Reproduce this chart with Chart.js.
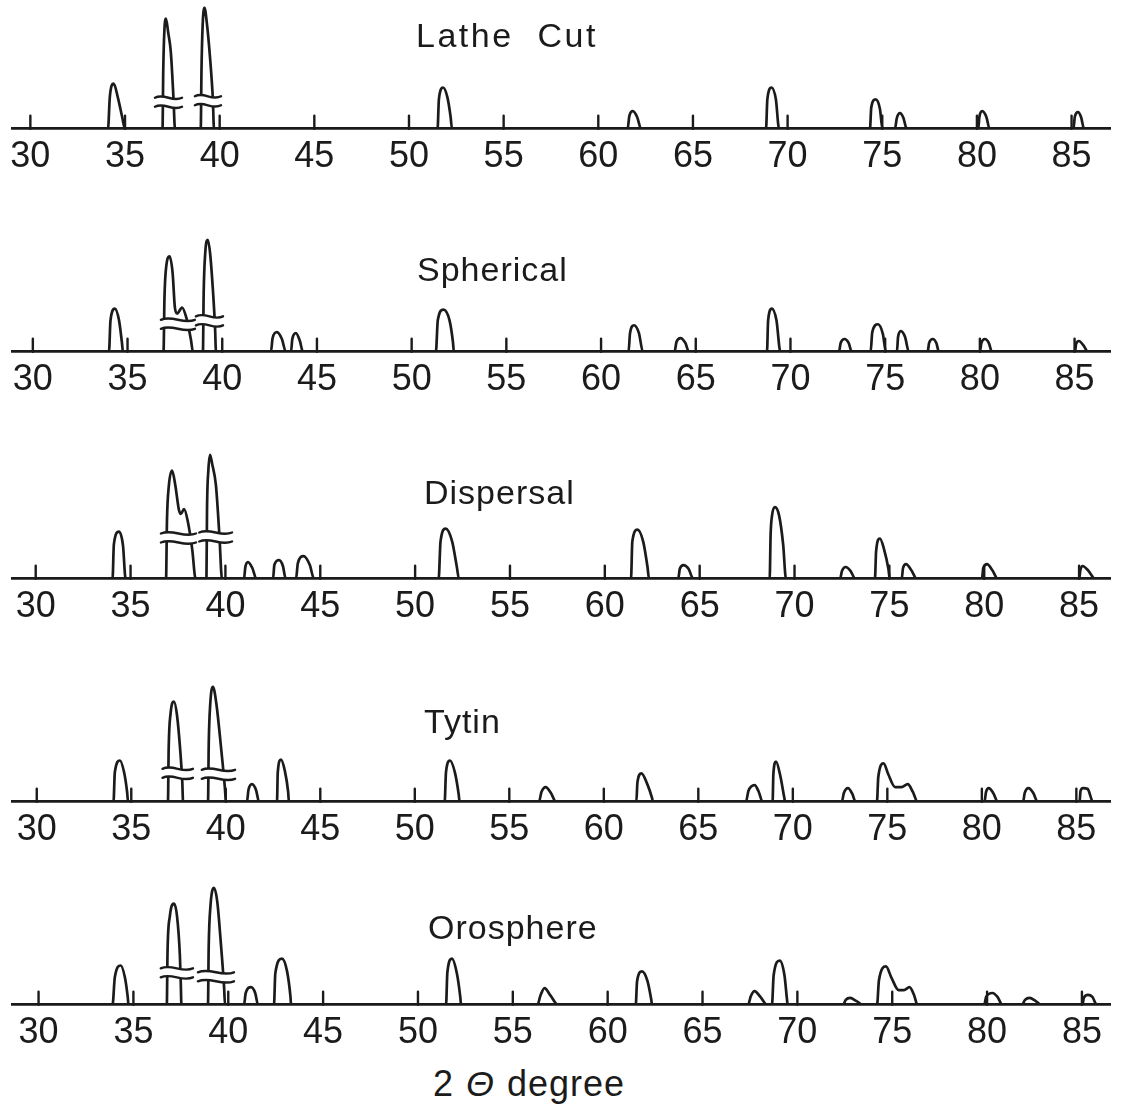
<!DOCTYPE html>
<html>
<head>
<meta charset="utf-8">
<title>XRD patterns</title>
<script src="https://cdn.jsdelivr.net/npm/chart.js"></script>
<style>
  body { margin: 0; background: #fff; }
  #wrap { position: relative; width: 1125px; height: 1104px; overflow: hidden; background: #fff; }
  #wrap canvas { position: absolute; left: 0; }
  .title {
    position: absolute;
    font-family: "Liberation Sans", Arial, sans-serif;
    font-size: 34px;
    line-height: 34px;
    letter-spacing: 1px;
    color: #1b1b1b;
    white-space: nowrap;
    z-index: 2;
  }
  .title.wide { letter-spacing: 2.5px; word-spacing: 12px; }
  .title.axis { font-size: 36px; line-height: 36px; letter-spacing: 1px; word-spacing: 1px; }
</style>
</head>
<body>
<div id="wrap"></div>
<script>
// 2-theta tick labels along every baseline
const tickValues = [30, 35, 40, 45, 50, 55, 60, 65, 70, 75, 80, 85];

const panelNames = ["Lathe Cut", "Spherical", "Dispersal", "Tytin", "Orosphere"];
const axisTitle = "2 <i>&Theta;</i> degree";

// traced profiles: [2theta, relative intensity]
const latheCut = [
  [29.03, 0],
  [34.10, 0], [34.20, 33], [34.40, 46], [34.62, 32], [34.85, 12], [35.00, 0],
  [36.98, 0], [37.02, 60], [37.08, 100], [37.16, 112], [37.28, 98], [37.42, 78], [37.56, 31], [37.64, 0],
  [39.00, 0], [39.04, 60], [39.10, 105], [39.20, 123], [39.32, 108], [39.48, 75], [39.64, 30], [39.70, 0],
  [51.51, 0], [51.58, 30], [51.80, 42], [52.03, 32], [52.20, 12], [52.27, 0],
  [61.55, 0], [61.64, 13], [61.83, 18], [62.05, 12], [62.26, 0],
  [68.86, 0], [68.93, 30], [69.15, 42], [69.38, 30], [69.55, 0],
  [74.35, 0], [74.42, 22], [74.65, 30], [74.88, 20], [75.01, 0],
  [75.67, 0], [75.77, 11], [75.94, 16], [76.12, 11], [76.29, 0],
  [80.07, 0], [80.13, 12], [80.28, 18], [80.50, 12], [80.67, 0],
  [85.10, 0], [85.17, 12], [85.34, 17], [85.50, 12], [85.66, 0],
  [87.03, 0]
];

const spherical = [
  [28.90, 0],
  [34.02, 0], [34.10, 32], [34.33, 44], [34.55, 32], [34.70, 10], [34.76, 0],
  [36.90, 0], [36.95, 55], [37.05, 88], [37.22, 97], [37.38, 80], [37.50, 45], [37.62, 39], [37.88, 45], [38.10, 35], [38.35, 12], [38.45, 0],
  [38.98, 0], [39.02, 60], [39.10, 100], [39.24, 114], [39.36, 100], [39.50, 65], [39.62, 25], [39.67, 0],
  [42.57, 0], [42.66, 14], [42.89, 20], [43.15, 13], [43.36, 0],
  [43.63, 0], [43.70, 13], [43.89, 19], [44.10, 11], [44.26, 0],
  [51.28, 0], [51.38, 32], [51.68, 43], [52.00, 32], [52.18, 10], [52.23, 0],
  [61.45, 0], [61.53, 19], [61.74, 27], [62.00, 19], [62.21, 0],
  [63.88, 0], [63.98, 10], [64.20, 14], [64.45, 9], [64.64, 0],
  [68.76, 0], [68.82, 32], [69.02, 44], [69.26, 32], [69.47, 0],
  [72.56, 0], [72.65, 9], [72.86, 13], [73.07, 9], [73.24, 0],
  [74.23, 0], [74.32, 20], [74.62, 28], [74.88, 18], [75.04, 0],
  [75.62, 0], [75.68, 15], [75.83, 21], [76.05, 15], [76.25, 0],
  [77.24, 0], [77.32, 9], [77.52, 13], [77.70, 9], [77.84, 0],
  [80.00, 0], [80.08, 9], [80.27, 13], [80.47, 9], [80.64, 0],
  [85.02, 0], [85.08, 8], [85.23, 11], [85.45, 7], [85.71, 0],
  [86.87, 0]
];

const dispersal = [
  [28.75, 0],
  [34.05, 0], [34.12, 35], [34.39, 48], [34.60, 34], [34.74, 0],
  [36.87, 0], [36.92, 60], [37.02, 95], [37.19, 110], [37.36, 95], [37.55, 70], [37.65, 66], [37.82, 71], [38.00, 60], [38.25, 30], [38.43, 0],
  [39.00, 0], [39.03, 70], [39.10, 110], [39.19, 126], [39.30, 117], [39.50, 95], [39.68, 45], [39.82, 0],
  [40.98, 0], [41.05, 12], [41.19, 17], [41.42, 11], [41.63, 0],
  [42.51, 0], [42.58, 14], [42.83, 19], [43.03, 13], [43.18, 0],
  [43.72, 0], [43.82, 16], [44.12, 23], [44.45, 14], [44.67, 0],
  [51.24, 0], [51.34, 38], [51.61, 51], [51.95, 38], [52.20, 12], [52.31, 0],
  [61.38, 0], [61.45, 38], [61.72, 50], [62.02, 38], [62.25, 12], [62.33, 0],
  [63.87, 0], [63.95, 10], [64.15, 14], [64.42, 10], [64.66, 0],
  [68.69, 0], [68.74, 45], [68.82, 65], [68.97, 73], [69.18, 65], [69.40, 35], [69.55, 0],
  [72.40, 0], [72.50, 8], [72.70, 12], [72.95, 8], [73.21, 0],
  [74.24, 0], [74.30, 28], [74.50, 41], [74.72, 30], [74.95, 10], [75.02, 0],
  [75.65, 0], [75.72, 11], [75.88, 15], [76.15, 9], [76.45, 0],
  [79.88, 0], [79.95, 11], [80.15, 15], [80.42, 9], [80.72, 0],
  [85.00, 0], [85.07, 9], [85.18, 13], [85.50, 8], [85.84, 0],
  [86.63, 0]
];

const tytin = [
  [28.69, 0],
  [34.06, 0], [34.13, 30], [34.40, 42], [34.62, 30], [34.78, 10], [34.83, 0],
  [36.94, 0], [36.98, 55], [37.08, 90], [37.26, 102], [37.42, 88], [37.60, 50], [37.70, 20], [37.74, 0],
  [39.06, 0], [39.10, 60], [39.18, 100], [39.32, 117], [39.50, 100], [39.75, 55], [39.95, 15], [40.01, 0],
  [41.12, 0], [41.20, 12], [41.39, 18], [41.60, 12], [41.76, 0],
  [42.71, 0], [42.75, 30], [42.92, 43], [43.12, 32], [43.30, 10], [43.34, 0],
  [51.58, 0], [51.65, 30], [51.86, 42], [52.12, 30], [52.32, 8], [52.37, 0],
  [56.57, 0], [56.70, 10], [56.93, 15], [57.20, 9], [57.47, 0],
  [61.72, 0], [61.78, 20], [61.99, 29], [62.30, 18], [62.55, 4], [62.60, 0],
  [67.52, 0], [67.65, 11], [67.98, 17], [68.20, 10], [68.40, 0],
  [68.93, 0], [68.97, 28], [69.11, 41], [69.32, 28], [69.55, 4], [69.59, 0],
  [72.59, 0], [72.70, 9], [72.92, 14], [73.15, 8], [73.32, 0],
  [74.45, 0], [74.52, 25], [74.80, 39], [75.05, 28], [75.41, 15], [75.75, 15], [76.08, 18], [76.35, 10], [76.60, 0],
  [80.14, 0], [80.22, 10], [80.37, 14], [80.60, 9], [80.85, 0],
  [82.18, 0], [82.27, 9], [82.47, 14], [82.72, 9], [82.95, 0],
  [85.17, 0], [85.22, 11], [85.35, 14], [85.60, 13], [85.88, 0],
  [86.78, 0]
];

const orosphere = [
  [28.60, 0],
  [33.90, 0], [34.02, 28], [34.33, 40], [34.55, 28], [34.70, 8], [34.74, 0],
  [36.76, 0], [36.80, 55], [36.92, 90], [37.14, 103], [37.30, 90], [37.45, 50], [37.50, 20], [37.53, 0],
  [38.93, 0], [38.97, 60], [39.06, 100], [39.25, 119], [39.42, 105], [39.62, 60], [39.78, 18], [39.83, 0],
  [40.83, 0], [40.92, 12], [41.20, 18], [41.42, 12], [41.57, 0],
  [42.41, 0], [42.48, 32], [42.83, 47], [43.10, 34], [43.28, 8], [43.31, 0],
  [51.48, 0], [51.55, 33], [51.79, 47], [52.05, 32], [52.23, 8], [52.27, 0],
  [56.30, 0], [56.45, 9], [56.67, 17], [57.00, 9], [57.38, 0],
  [61.48, 0], [61.55, 24], [61.81, 34], [62.10, 24], [62.30, 5], [62.34, 0],
  [67.40, 0], [67.55, 9], [67.74, 14], [68.05, 8], [68.41, 0],
  [68.66, 0], [68.75, 30], [69.07, 45], [69.32, 30], [69.45, 6], [69.49, 0],
  [72.41, 0], [72.55, 5], [72.78, 7], [73.10, 4], [73.45, 0],
  [74.20, 0], [74.30, 25], [74.67, 39], [74.95, 28], [75.34, 15], [75.62, 15], [75.91, 18], [76.15, 10], [76.33, 0],
  [79.85, 0], [79.95, 8], [80.28, 12], [80.55, 8], [80.81, 0],
  [81.84, 0], [82.00, 5], [82.24, 7], [82.55, 4], [82.85, 0],
  [85.03, 0], [85.10, 7], [85.32, 10], [85.55, 8], [85.79, 0],
  [86.48, 0]
];

// axis breaks on the two strongest reflections: [from 2theta, to 2theta, intensity level]
const latheCutBreaks = [[36.58, 38.01, 27], [38.69, 40.07, 28.5]];
const sphericalBreaks = [[36.76, 38.56, 28], [38.61, 40.04, 31.5]];
const dispersalBreaks = [[36.60, 38.45, 41.5], [38.62, 40.35, 42.5]];
const tytinBreaks = [[36.65, 38.26, 29], [38.73, 40.49, 28]];
const orosphereBreaks = [[36.44, 38.14, 32.5], [38.40, 40.30, 28.5]];

// page layout of the five strips
const panels = [
  { data: latheCut,  breaks: latheCutBreaks,  top: 0.5,   min: 29.03, max: 87.03, titleX: 416, titleBase: 47, cls: 'title wide' },
  { data: spherical, breaks: sphericalBreaks, top: 224.2, min: 28.90, max: 86.87, titleX: 417, titleBase: 281, cls: 'title' },
  { data: dispersal, breaks: dispersalBreaks, top: 451.2, min: 28.75, max: 86.63, titleX: 424, titleBase: 504, cls: 'title' },
  { data: tytin,     breaks: tytinBreaks,     top: 674.2, min: 28.69, max: 86.78, titleX: 424, titleBase: 733, cls: 'title' },
  { data: orosphere, breaks: orosphereBreaks, top: 876.7, min: 28.60, max: 86.48, titleX: 428, titleBase: 939, cls: 'title' }
];

const ink = '#1b1b1b';

const xrdMarks = {
  id: 'xrdMarks',
  afterDatasetsDraw(chart, args, opts) {
    const ctx = chart.ctx;
    const area = chart.chartArea;
    const x = chart.scales.x, y = chart.scales.y;
    ctx.save();
    ctx.strokeStyle = opts.color;
    ctx.lineWidth = opts.width;
    ctx.lineCap = 'round';

    opts.ticks.forEach(v => {
      const px = x.getPixelForValue(v);
      ctx.beginPath();
      ctx.moveTo(px, area.bottom);
      ctx.lineTo(px, area.bottom - opts.tickLen);
      ctx.stroke();
    });

    opts.breaks.forEach(([from, to, level]) => {
      const x1 = x.getPixelForValue(from);
      const x2 = x.getPixelForValue(to);
      const yc = y.getPixelForValue(level);
      const w = x2 - x1, g = opts.gap / 2, a = opts.amp;

      ctx.beginPath();
      ctx.moveTo(x1, yc - g);
      ctx.bezierCurveTo(x1 + w * 0.35, yc - g - a, x1 + w * 0.65, yc - g + a, x2, yc - g);
      ctx.lineTo(x2, yc + g);
      ctx.bezierCurveTo(x1 + w * 0.65, yc + g + a, x1 + w * 0.35, yc + g - a, x1, yc + g);
      ctx.closePath();
      ctx.fillStyle = '#fff';
      ctx.fill();

      [yc - g, yc + g].forEach(yy => {
        ctx.beginPath();
        ctx.moveTo(x1, yy);
        ctx.bezierCurveTo(x1 + w * 0.35, yy - a, x1 + w * 0.65, yy + a, x2, yy);
        ctx.stroke();
      });
    });
    ctx.restore();
  }
};

const wrap = document.getElementById('wrap');

panels.forEach((p, i) => {
  const canvas = document.createElement('canvas');
  canvas.width = 1125;
  canvas.height = 185;
  canvas.style.top = p.top + 'px';
  wrap.appendChild(canvas);

  new Chart(canvas, {
    type: 'line',
    data: {
      datasets: [{
        data: p.data.map(([x, y]) => ({ x: x, y: y })),
        borderColor: ink,
        borderWidth: 2.7,
        pointRadius: 0,
        fill: false,
        cubicInterpolationMode: 'monotone'
      }]
    },
    options: {
      responsive: false,
      animation: false,
      events: [],
      layout: { padding: { left: 12, right: 15, top: 0, bottom: 0 } },
      plugins: {
        legend: { display: false },
        tooltip: { enabled: false },
        xrdMarks: { ticks: tickValues, breaks: p.breaks, color: ink, width: 2.4, tickLen: 13, gap: 9, amp: 5 }
      },
      scales: {
        x: {
          type: 'linear',
          min: p.min,
          max: p.max,
          grid: { display: false, drawTicks: false },
          border: { display: true, color: ink, width: 2.7 },
          afterBuildTicks: axis => { axis.ticks = tickValues.map(v => ({ value: v })); },
          ticks: {
            padding: 7,
            color: ink,
            autoSkip: false,
            maxRotation: 0,
            font: { family: '"Liberation Sans", Arial, sans-serif', size: 36 }
          }
        },
        y: { display: false, min: 0, max: 130 }
      }
    },
    plugins: [xrdMarks]
  });

  const t = document.createElement('div');
  t.className = p.cls;
  t.textContent = panelNames[i];
  t.style.left = p.titleX + 'px';
  t.style.top = (p.titleBase - 28.8) + 'px';
  wrap.appendChild(t);
});

const xt = document.createElement('div');
xt.className = 'title axis';
xt.innerHTML = axisTitle;
xt.style.left = '433px';
xt.style.top = (1096 - 30.5) + 'px';
wrap.appendChild(xt);
</script>
</body>
</html>
